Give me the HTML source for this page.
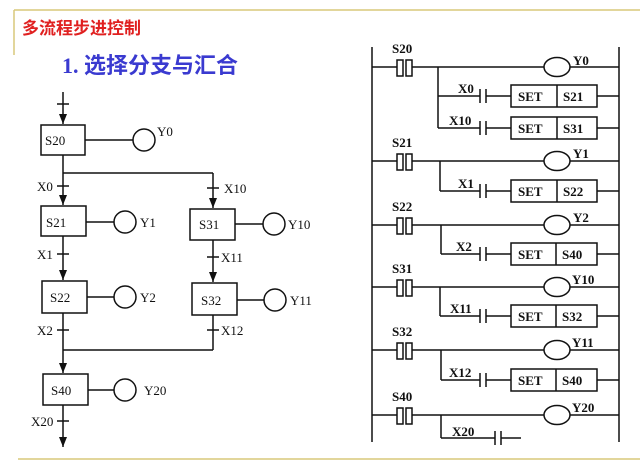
<!DOCTYPE html>
<html><head><meta charset="utf-8"><style>
html,body{margin:0;padding:0;background:#fff;}
svg{display:block;}
text{font-family:"Liberation Serif","Noto Serif CJK SC",serif;}
.l{font-size:13px;font-weight:bold;fill:#111;}
.s{font-size:13px;fill:#111;}
</style></head><body>
<svg width="640" height="468" viewBox="0 0 640 468" xmlns="http://www.w3.org/2000/svg">
<defs><marker id="a" markerWidth="10" markerHeight="8" refX="10" refY="4" orient="auto" markerUnits="userSpaceOnUse"><path d="M0,0 L10,4 L0,8 z" fill="#111"/></marker></defs>
<g stroke="#d9c97a" stroke-width="1.5" fill="none">
<line x1="14" y1="10" x2="640" y2="10"/><line x1="14" y1="10" x2="14" y2="55"/><line x1="18" y1="459" x2="640" y2="459"/>
</g>
<text x="22" y="34" style="font-family:'Liberation Sans','Noto Sans CJK SC',sans-serif;font-size:17px;font-weight:bold;fill:#e02020">多流程步进控制</text>
<text x="62" y="73" style="font-family:'Liberation Serif','Noto Sans CJK SC',serif;font-size:22px;font-weight:bold;fill:#3a3ad0">1. 选择分支与汇合</text>

<g stroke="#111" stroke-width="1.5" fill="none">
<line x1="63" y1="92" x2="63" y2="124" marker-end="url(#a)"/><line x1="57" y1="104" x2="69" y2="104"/>
<rect x="41" y="125" width="44" height="30" fill="#fff"/>
<line x1="85" y1="140" x2="133" y2="140"/><circle cx="144" cy="140" r="11"/>
<line x1="63" y1="155" x2="63" y2="205" marker-end="url(#a)"/><line x1="57" y1="186" x2="69" y2="186"/>
<line x1="63" y1="173" x2="213" y2="173"/>
<line x1="213" y1="173" x2="213" y2="208" marker-end="url(#a)"/><line x1="207" y1="188" x2="219" y2="188"/>
<rect x="41" y="206" width="45" height="30" fill="#fff"/>
<line x1="86" y1="222" x2="114" y2="222"/><circle cx="125" cy="222" r="11"/>
<rect x="190" y="209" width="45" height="31" fill="#fff"/>
<line x1="235" y1="224" x2="263" y2="224"/><circle cx="274" cy="224" r="11"/>
<line x1="63" y1="236" x2="63" y2="280" marker-end="url(#a)"/><line x1="57" y1="254" x2="69" y2="254"/>
<line x1="213" y1="240" x2="213" y2="282" marker-end="url(#a)"/><line x1="207" y1="257" x2="219" y2="257"/>
<rect x="42" y="281" width="45" height="32" fill="#fff"/>
<line x1="87" y1="297" x2="114" y2="297"/><circle cx="125" cy="297" r="11"/>
<rect x="192" y="283" width="45" height="32" fill="#fff"/>
<line x1="237" y1="300" x2="264" y2="300"/><circle cx="275" cy="300" r="11"/>
<line x1="63" y1="313" x2="63" y2="373" marker-end="url(#a)"/><line x1="57" y1="330" x2="69" y2="330"/>
<line x1="213" y1="315" x2="213" y2="350"/><line x1="207" y1="330" x2="219" y2="330"/>
<line x1="63" y1="350" x2="213" y2="350"/>
<rect x="43" y="374" width="45" height="31" fill="#fff"/>
<line x1="88" y1="390" x2="114" y2="390"/><circle cx="125" cy="390" r="11"/>
<line x1="63" y1="405" x2="63" y2="447" marker-end="url(#a)"/><line x1="57" y1="421" x2="69" y2="421"/>
</g>
<g class="s">
<text x="45" y="145">S20</text><text x="157" y="136">Y0</text>
<text x="37" y="191">X0</text><text x="224" y="193">X10</text>
<text x="46" y="227">S21</text><text x="140" y="227">Y1</text>
<text x="199" y="229">S31</text><text x="288" y="229">Y10</text>
<text x="37" y="259">X1</text><text x="221" y="262">X11</text>
<text x="50" y="302">S22</text><text x="140" y="302">Y2</text>
<text x="201" y="305">S32</text><text x="290" y="305">Y11</text>
<text x="37" y="335">X2</text><text x="221" y="335">X12</text>
<text x="51" y="395">S40</text><text x="144" y="395">Y20</text>
<text x="31" y="426">X20</text>
</g>

<g stroke="#111" stroke-width="1.5" fill="none">
<line x1="372" y1="47" x2="372" y2="442"/><line x1="619" y1="47" x2="619" y2="442"/>
<line x1="372" y1="67" x2="397" y2="67"/><rect x="397" y="60" width="6" height="16"/><rect x="406" y="60" width="6" height="16"/>
<line x1="412" y1="67" x2="544" y2="67"/><ellipse cx="557" cy="67" rx="13" ry="9.5"/><line x1="570" y1="67" x2="619" y2="67"/>
<line x1="438" y1="67" x2="438" y2="128"/>
<line x1="438" y1="96" x2="480" y2="96"/><line x1="480" y1="89" x2="480" y2="103"/><line x1="486" y1="89" x2="486" y2="103"/><line x1="486" y1="96" x2="511" y2="96"/>
<rect x="511" y="85" width="86" height="22"/><line x1="557" y1="85" x2="557" y2="107"/><line x1="597" y1="96" x2="619" y2="96"/>
<line x1="438" y1="128" x2="480" y2="128"/><line x1="480" y1="121" x2="480" y2="135"/><line x1="486" y1="121" x2="486" y2="135"/><line x1="486" y1="128" x2="511" y2="128"/>
<rect x="511" y="117" width="86" height="22"/><line x1="557" y1="117" x2="557" y2="139"/><line x1="597" y1="128" x2="619" y2="128"/>
<line x1="372" y1="161" x2="397" y2="161"/><rect x="397" y="154" width="6" height="16"/><rect x="406" y="154" width="6" height="16"/>
<line x1="412" y1="161" x2="544" y2="161"/><ellipse cx="557" cy="161" rx="13" ry="9.5"/><line x1="570" y1="161" x2="619" y2="161"/>
<line x1="440" y1="161" x2="440" y2="191"/>
<line x1="440" y1="191" x2="480" y2="191"/><line x1="480" y1="184" x2="480" y2="198"/><line x1="486" y1="184" x2="486" y2="198"/><line x1="486" y1="191" x2="511" y2="191"/>
<rect x="511" y="180" width="86" height="22"/><line x1="557" y1="180" x2="557" y2="202"/><line x1="597" y1="191" x2="619" y2="191"/>
<line x1="372" y1="225" x2="397" y2="225"/><rect x="397" y="218" width="6" height="16"/><rect x="406" y="218" width="6" height="16"/>
<line x1="412" y1="225" x2="544" y2="225"/><ellipse cx="557" cy="225" rx="13" ry="9.5"/><line x1="570" y1="225" x2="619" y2="225"/>
<line x1="441" y1="225" x2="441" y2="254"/>
<line x1="441" y1="254" x2="480" y2="254"/><line x1="480" y1="247" x2="480" y2="261"/><line x1="486" y1="247" x2="486" y2="261"/><line x1="486" y1="254" x2="511" y2="254"/>
<rect x="511" y="243" width="86" height="22"/><line x1="556" y1="243" x2="556" y2="265"/><line x1="597" y1="254" x2="619" y2="254"/>
<line x1="372" y1="287" x2="397" y2="287"/><rect x="397" y="280" width="6" height="16"/><rect x="406" y="280" width="6" height="16"/>
<line x1="412" y1="287" x2="544" y2="287"/><ellipse cx="557" cy="287" rx="13" ry="9.5"/><line x1="570" y1="287" x2="619" y2="287"/>
<line x1="440" y1="287" x2="440" y2="316"/>
<line x1="440" y1="316" x2="480" y2="316"/><line x1="480" y1="309" x2="480" y2="323"/><line x1="486" y1="309" x2="486" y2="323"/><line x1="486" y1="316" x2="511" y2="316"/>
<rect x="511" y="305" width="86" height="22"/><line x1="556" y1="305" x2="556" y2="327"/><line x1="597" y1="316" x2="619" y2="316"/>
<line x1="372" y1="350" x2="397" y2="350"/><rect x="397" y="343" width="6" height="16"/><rect x="406" y="343" width="6" height="16"/>
<line x1="412" y1="350" x2="544" y2="350"/><ellipse cx="557" cy="350" rx="13" ry="9.5"/><line x1="570" y1="350" x2="619" y2="350"/>
<line x1="441" y1="350" x2="441" y2="380"/>
<line x1="441" y1="380" x2="480" y2="380"/><line x1="480" y1="373" x2="480" y2="387"/><line x1="486" y1="373" x2="486" y2="387"/><line x1="486" y1="380" x2="511" y2="380"/>
<rect x="511" y="369" width="86" height="22"/><line x1="556" y1="369" x2="556" y2="391"/><line x1="597" y1="380" x2="619" y2="380"/>
<line x1="372" y1="415" x2="397" y2="415"/><rect x="397" y="408" width="6" height="16"/><rect x="406" y="408" width="6" height="16"/>
<line x1="412" y1="415" x2="544" y2="415"/><ellipse cx="557" cy="415" rx="13" ry="9.5"/><line x1="570" y1="415" x2="619" y2="415"/>
<line x1="441" y1="415" x2="441" y2="438"/>
<line x1="441" y1="438" x2="495" y2="438"/><line x1="495" y1="431" x2="495" y2="445"/><line x1="501" y1="431" x2="501" y2="445"/><line x1="501" y1="438" x2="521" y2="438"/>
</g>
<g class="l">
<text x="392" y="53">S20</text><text x="573" y="65">Y0</text>
<text x="458" y="93">X0</text><text x="449" y="125">X10</text>
<text x="392" y="147">S21</text><text x="573" y="158">Y1</text>
<text x="458" y="188">X1</text>
<text x="392" y="211">S22</text><text x="573" y="222">Y2</text>
<text x="456" y="251">X2</text>
<text x="392" y="273">S31</text><text x="572" y="284">Y10</text>
<text x="450" y="313">X11</text>
<text x="392" y="336">S32</text><text x="572" y="347">Y11</text>
<text x="449" y="377">X12</text>
<text x="392" y="401">S40</text><text x="572" y="412">Y20</text>
<text x="452" y="436">X20</text>
<text x="518" y="101">SET</text><text x="563" y="101">S21</text>
<text x="518" y="133">SET</text><text x="563" y="133">S31</text>
<text x="518" y="196">SET</text><text x="563" y="196">S22</text>
<text x="518" y="259">SET</text><text x="562" y="259">S40</text>
<text x="518" y="321">SET</text><text x="562" y="321">S32</text>
<text x="518" y="385">SET</text><text x="562" y="385">S40</text>
</g>
</svg>
</body></html>
